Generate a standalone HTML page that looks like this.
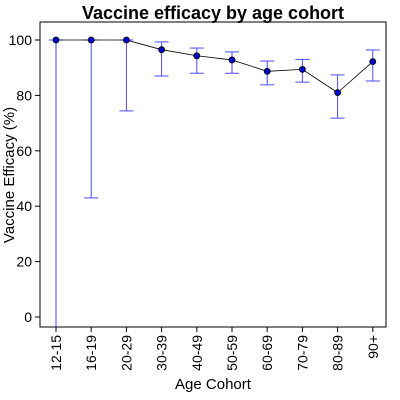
<!DOCTYPE html>
<html><head><meta charset="utf-8"><style>
html,body{margin:0;padding:0;background:#fff;}
svg{display:block;font-family:"Liberation Sans",sans-serif;}
</style></head><body>
<svg id="chart" width="400" height="400">
<text x="213" y="19" text-anchor="middle" font-size="18" font-weight="bold">Vaccine efficacy by age cohort</text>
<rect x="40" y="22" width="346" height="305" fill="none" stroke="#000" stroke-width="1"/>
<g id="yaxis"></g>
<g id="xaxis"></g>
<defs><clipPath id="clip"><rect x="40" y="22" width="346" height="305"/></clipPath></defs>
<g id="bars" clip-path="url(#clip)"></g>
<g id="line"></g>
<g id="points"></g>
<text x="213" y="389" text-anchor="middle" font-size="15">Age Cohort</text>
<text transform="translate(14,175) rotate(-90)" text-anchor="middle" font-size="15">Vaccine Efficacy (%)</text>
</svg>
<script>
const categories=["12-15","16-19","20-29","30-39","40-49","50-59","60-69","70-79","80-89","90+"];
const efficacy=[100,100,100,96.5,94.3,92.8,88.7,89.4,81,92.2];
const lowerCI=[-20,43,74.4,87,88,88,83.8,84.8,71.8,85.2];
const upperCI=[100,100,100,99.3,97.1,95.7,92.4,93,87.4,96.4];
const yTicks=[0,20,40,60,80,100];
const NS="http://www.w3.org/2000/svg";
function xs(i){return 56+i*35.2;}
function ys(v){return 317-v*2.77;}
function mk(t,a,p){const e=document.createElementNS(NS,t);for(const k in a)e.setAttribute(k,a[k]);p.appendChild(e);return e;}
const ya=document.getElementById('yaxis'),xa=document.getElementById('xaxis');
yTicks.forEach(v=>{
 const l=mk('line',{x1:35,x2:40,y1:ys(v),y2:ys(v),stroke:'#000'},ya);
 
 
 const t=mk('text',{x:32,y:ys(v)+5,'text-anchor':'end','font-size':14},ya);t.textContent=v;
 
 
});
categories.forEach((c,i)=>{
 const l=mk('line',{x1:xs(i),x2:xs(i),y1:327,y2:332,stroke:'#000'},xa);
 
 
 const t=mk('text',{transform:`translate(${xs(i)+5},335) rotate(-90)`,'text-anchor':'end','font-size':14},xa);t.textContent=c;
 
 
});
const bg=document.getElementById('bars');
categories.forEach((c,i)=>{
 const g=mk('g',{stroke:'#4a4aff','stroke-width':1},bg);
 
 
 const x=xs(i);
 mk('line',{x1:x,x2:x,y1:ys(lowerCI[i]),y2:ys(upperCI[i])},g);
 mk('line',{x1:x-7,x2:x+7,y1:ys(lowerCI[i]),y2:ys(lowerCI[i])},g);
 mk('line',{x1:x-7,x2:x+7,y1:ys(upperCI[i]),y2:ys(upperCI[i])},g);
});
const pl=mk('polyline',{points:efficacy.map((v,i)=>xs(i)+','+ys(v)).join(' '),fill:'none',stroke:'#000','stroke-width':0.8},document.getElementById('line'));


const pg=document.getElementById('points');
efficacy.forEach((v,i)=>{
 const c=mk('circle',{cx:xs(i),cy:ys(v),r:3,fill:'#0000cc',stroke:'#000','stroke-width':0.8},pg);
 
 
});
</script>
</body></html>
